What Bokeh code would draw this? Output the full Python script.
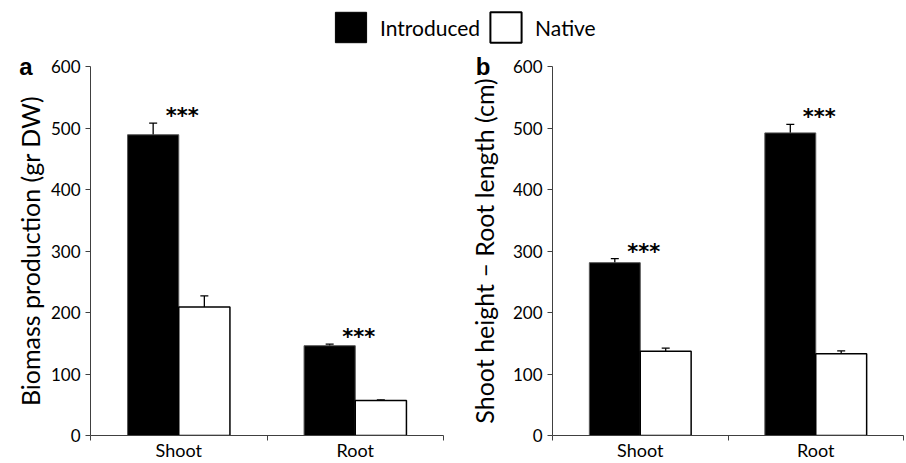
import numpy as np
from bokeh.plotting import figure
from bokeh.layouts import column, row
from bokeh.models import (Range1d, FixedTicker, Whisker, ColumnDataSource, TeeHead,
                          Legend, LegendItem, LinearAxis)
from bokeh.core.properties import value
from bokeh.embed import file_html
from bokeh.resources import INLINE

categories = ["Shoot", "Root"]
series = ["Introduced", "Native"]

biomass_introduced = [489, 146]
biomass_introduced_err = [19, 2.5]
biomass_native = [209, 57]
biomass_native_err = [18, 1]

length_introduced = [281, 492]
length_introduced_err = [6.5, 14]
length_native = [137, 133]
length_native_err = [5, 4.5]

y_ticks = [0, 100, 200, 300, 400, 500, 600]
significance = ["***", "***"]

FONT = "Lato"
BAR_W = 0.29
AXIS_COLOR = "#404040"


def make_panel(intro, intro_err, native, native_err, ylabel, letter, width,
               border_left, border_right, label_standoff, letter_standoff):
    p = figure(width=width, height=417, toolbar_location=None, output_backend="svg",
               x_range=Range1d(0, len(categories)), y_range=Range1d(0, 600),
               min_border_left=border_left, min_border_right=border_right,
               min_border_top=20, min_border_bottom=20)
    p.outline_line_color = None
    p.xgrid.grid_line_color = None
    p.ygrid.grid_line_color = None
    centers = np.arange(len(categories)) + 0.5
    x_intro = centers - BAR_W / 2
    x_nat = centers + BAR_W / 2

    p.vbar(x=x_intro, top=intro, width=BAR_W, bottom=0, fill_color="black",
           line_color="#555555", line_width=1)
    p.vbar(x=x_nat, top=native, width=BAR_W, bottom=0, fill_color="white",
           line_color="black", line_width=1.5)

    for xs, vals, errs in ((x_intro, intro, intro_err), (x_nat, native, native_err)):
        src = ColumnDataSource(dict(x=xs, upper=np.array(vals) + np.array(errs),
                                    lower=np.array(vals) - np.array(errs)))
        w = Whisker(source=src, base="x", upper="upper", lower="lower",
                    line_color="black", line_width=1.3,
                    upper_head=TeeHead(size=8, line_color="black", line_width=1.3),
                    lower_head=TeeHead(size=8, line_color="black", line_width=1.3))
        p.add_layout(w)

    star_y = np.array(intro) + np.array(intro_err)
    p.text(x=centers + 0.02, y=star_y, text=significance, text_font=value("DejaVu Sans"),
           text_font_size="21px", text_font_style="bold", text_align="center",
           text_baseline="alphabetic", y_offset=-7, text_color="black")

    # x axis: labels at category centres, tick marks at category boundaries
    xa = p.xaxis[0]
    xa.ticker = FixedTicker(ticks=list(centers), minor_ticks=list(range(len(categories) + 1)))
    xa.major_label_overrides = {float(c): lab for c, lab in zip(centers, categories)}
    xa.major_tick_out = 0
    xa.major_tick_in = 0
    xa.minor_tick_out = 5
    xa.minor_tick_in = 0
    xa.major_label_standoff = -2
    xa.axis_label_standoff = 0
    xa.axis_line_color = AXIS_COLOR
    xa.minor_tick_line_color = AXIS_COLOR
    xa.major_label_text_font = FONT
    xa.major_label_text_font_size = "18px"
    xa.major_label_text_color = "black"

    ya = p.yaxis[0]
    ya.ticker = FixedTicker(ticks=y_ticks)
    ya.major_tick_out = 5
    ya.major_tick_in = 0
    ya.minor_tick_out = 0
    ya.minor_tick_in = 0
    ya.major_label_standoff = 5
    ya.axis_line_color = AXIS_COLOR
    ya.major_tick_line_color = AXIS_COLOR
    ya.major_label_text_font = FONT
    ya.major_label_text_font_size = "17px"
    ya.major_label_text_color = "black"
    ya.axis_label = ylabel
    ya.axis_label_text_font = FONT
    ya.axis_label_text_font_size = "25px"
    ya.axis_label_text_font_style = "normal"
    ya.axis_label_text_color = "black"
    ya.axis_label_standoff = label_standoff

    # panel letter, drawn as a lone tick label of an extra left axis
    la = LinearAxis(ticker=FixedTicker(ticks=[y_ticks[-1]]),
                    major_label_overrides={y_ticks[-1]: letter},
                    axis_line_color=None, major_tick_line_color=None,
                    minor_tick_line_color=None, major_tick_out=0, major_tick_in=0,
                    minor_tick_out=0, minor_tick_in=0,
                    major_label_standoff=letter_standoff, axis_label_standoff=0,
                    major_label_text_font="Liberation Sans",
                    major_label_text_font_size="24px",
                    major_label_text_font_style="bold",
                    major_label_text_color="black")
    p.add_layout(la, "left")
    return p


pa = make_panel(biomass_introduced, biomass_introduced_err, biomass_native, biomass_native_err,
                "Biomass production (gr DW)", "a", 450, 90, 7, 3, -21)
pb = make_panel(length_introduced, length_introduced_err, length_native, length_native_err,
                "Shoot height \u2013 Root length (cm)", "b", 456, 102, 3, 11, -25)

# legend strip: the key glyphs come from tiny proxy bars hidden behind the
# legend's own opaque white background
leg = figure(width=906, height=46, toolbar_location=None, output_backend="svg",
             x_range=Range1d(0, 1), y_range=Range1d(0, 1),
             min_border_left=0, min_border_right=0, min_border_top=0, min_border_bottom=0)
leg.axis.visible = False
leg.xgrid.grid_line_color = None
leg.ygrid.grid_line_color = None
leg.outline_line_color = None
leg.background_fill_color = "white"
r1 = leg.vbar(x=[0.5], top=[0.55], bottom=[0.45], width=0.005,
              fill_color="black", line_color="black")
r2 = leg.vbar(x=[0.5], top=[0.55], bottom=[0.45], width=0.005,
              fill_color="white", line_color="black", line_width=2)
legend = Legend(items=[LegendItem(label=series[0], renderers=[r1]),
                       LegendItem(label=series[1], renderers=[r2])],
                orientation="horizontal", location=(331, 0),
                glyph_width=39, glyph_height=38, label_standoff=10, spacing=6,
                padding=0, margin=0, border_line_color=None,
                background_fill_color="white", background_fill_alpha=1.0,
                label_text_font=FONT, label_text_font_size="21px", label_text_color="black")
leg.add_layout(legend)

layout = column(leg, row(pa, pb, spacing=0), spacing=0)
open("out.html", "w").write(file_html(layout, INLINE))
